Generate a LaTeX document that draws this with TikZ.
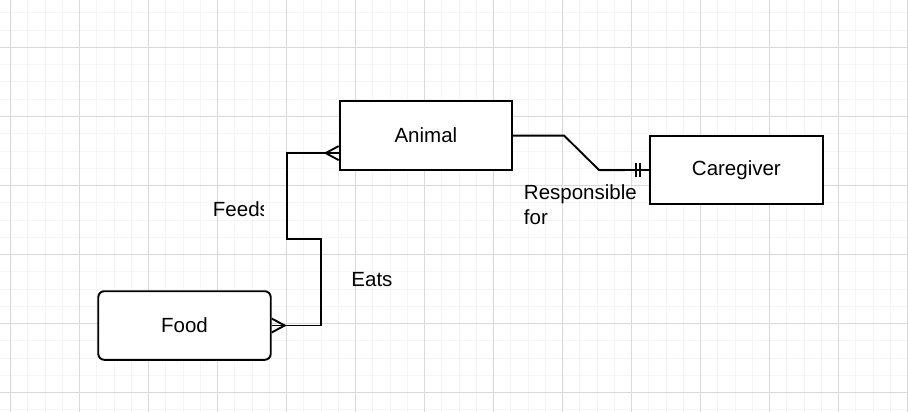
\documentclass[tikz,border=0pt]{standalone}
\usepackage{fontspec}
\setmainfont{Liberation Sans}
\usetikzlibrary{calc}
\begin{document}
\begin{tikzpicture}[x=1pt,y=-1pt,line width=1.9pt]
  \tikzstyle{entity}=[draw, fill=white, minimum width=172.5pt, minimum height=68.6pt,
    font=\fontsize{20.5}{25}\selectfont]
  \tikzstyle{verb}=[anchor=base west, inner sep=0pt, align=left,
    font=\fontsize{20.5}{25}\selectfont]
  \tikzstyle{gridminor}=[line width=1pt, draw=black!4]
  \tikzstyle{gridmajor}=[line width=1pt, draw=black!15]

  \fill[white] (0,0) rectangle (908,412);
  \useasboundingbox (0,0) rectangle (908,412);
  \foreach \k in {-1,...,52} \draw[gridminor] ({10.5+17.25*\k},0) -- ({10.5+17.25*\k},412);
  \foreach \k in {-3,...,21} \draw[gridminor] (0,{47.5+17.25*\k}) -- (908,{47.5+17.25*\k});
  \foreach \k in {0,...,13} \draw[gridmajor] ({10.5+69*\k},0) -- ({10.5+69*\k},412);
  \foreach \k in {0,...,5} \draw[gridmajor] (0,{47.5+69*\k}) -- (908,{47.5+69*\k});

  \node[entity] (animal) at (425.9,135.6) {Animal};
  \node[entity] (caregiver) at (736.4,170) {Caregiver};
  \node[entity, rounded corners=6pt] (food) at (184.5,325.5) {Food};

  \coordinate (afoot) at ($(animal.west)+(0,17.5)$);
  \draw (animal.east) -- ++(51,0) -- ++(35,34.5) -- (caregiver.west);
  \draw ($(caregiver.west)+(-9,-7)$) -- ++(0,14) ($(caregiver.west)+(-13.5,-7)$) -- ++(0,14);
  \draw (afoot) -- ++(-51.5,0) -- ++(0,86) -- ++(34,0) |- (food.east);
  \draw ($(afoot)+(0,-7)$) -- ($(afoot)+(-13,0)$) -- ($(afoot)+(0,7)$);
  \draw ($(food.east)+(0,-7)$) -- ($(food.east)+(13,0)$) -- ($(food.east)+(0,7)$);

  \begin{scope}
    \clip (200,190) rectangle (263.5,230);
    \node[verb] (feeds) at (212,216.7) {Feeds};
  \end{scope}
  \node[verb] (eats) at (350.5,286) {Eats};
  \node[verb] (resp) at (523,224.3) {Responsible\\for};
\end{tikzpicture}
\end{document}
